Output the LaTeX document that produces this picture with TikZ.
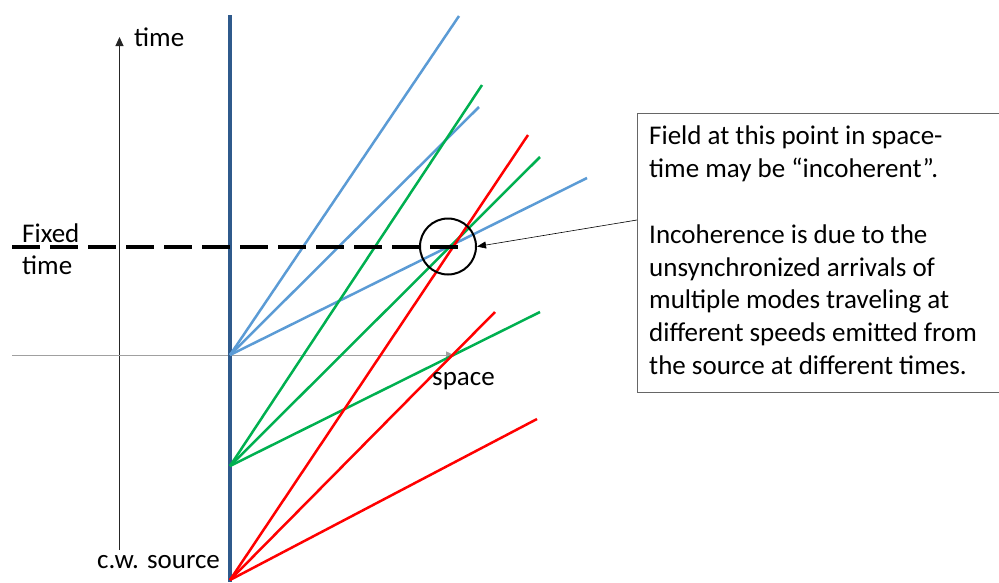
\documentclass[tikz,border=0pt]{standalone}
\usepackage{fontspec}
\setmainfont{Carlito}
\usetikzlibrary{arrows.meta}
\definecolor{srcblue}{HTML}{2F5A8C}
\definecolor{mblue}{HTML}{5B9BD5}
\definecolor{mgreen}{HTML}{00B050}
\definecolor{mred}{HTML}{FF0000}
\definecolor{axgrey}{HTML}{A0A0A0}
\begin{document}
\begin{tikzpicture}[x=1pt,y=-1pt,
  lbl/.style={font=\fontsize{27}{32}\selectfont, inner sep=0pt, anchor=base west},
  mode/.style={line width=2.5pt},
  ax/.style={line width=0.9pt,-{Triangle[length=9pt,width=8pt]}}]
\useasboundingbox (0,0) rectangle (999,582);
% axes
\coordinate (tb) at (119.5,550);
\coordinate (tt) at (119.5,37);
\draw[ax,black!85] (tb) -- (tt);
\coordinate (sl) at (12,355.5);
\coordinate (sr) at (455,355.5);
\draw[ax,axgrey,line width=1.4pt] (sl) -- (sr);
% source line
\coordinate (st) at (230,15);
\coordinate (sb) at (230,582);
\draw[srcblue,line width=4pt] (st) -- (sb);
% emission points
\coordinate (O1) at (230,355);
\coordinate (O2) at (230,466);
\coordinate (O3) at (230,580);
% blue modes
\coordinate (b1) at (459,16);
\coordinate (b2) at (479,107);
\coordinate (b3) at (587,178);
\draw[mode,mblue] (O1) -- (b1);
\draw[mode,mblue] (O1) -- (b2);
\draw[mode,mblue] (O1) -- (b3);
% green modes
\coordinate (g1) at (482,85);
\coordinate (g2) at (540,157);
\coordinate (g3) at (540,312);
\draw[mode,mgreen] (O2) -- (g1);
\draw[mode,mgreen] (O2) -- (g2);
\draw[mode,mgreen] (O2) -- (g3);
% red modes
\coordinate (r1) at (528,135);
\coordinate (r2) at (495,312);
\coordinate (r3) at (537,419);
\draw[mode,mred] (O3) -- (r1);
\draw[mode,mred] (O3) -- (r2);
\draw[mode,mred] (O3) -- (r3);
% fixed time dashed line
\coordinate (dl) at (12,247);
\coordinate (dr) at (458,247);
\draw[line width=4pt,dash pattern=on 28pt off 10pt] (dl) -- (dr);
% circle
\node[draw,circle,line width=2pt,minimum size=56pt,inner sep=0pt] (pt) at (448,246.5) {};
% labels
\node[lbl] (ltime) at (134,46) {time};
\node[lbl] (lspace) at (432,385) {space};
\node[lbl] (lsrc) at (97,568) {c.w. source};
\node[lbl] (lfixed) at (22,242) {Fixed};
\node[lbl] (lftime) at (22,274) {time};
% callout box
\node[draw=black!60,line width=1pt,rectangle,anchor=north west,minimum width=363pt,minimum height=279pt,inner sep=0pt] (box) at (637,113) {};
\node[font=\fontsize{27}{32.8}\selectfont,anchor=north west,inner sep=0pt,align=left] (boxtext) at (649,126)
  {Field at this point in space-\\time may be “incoherent”.\\[32.8pt]Incoherence is due to the\\unsynchronized arrivals of\\multiple modes traveling at\\different speeds emitted from\\the source at different times.};
\coordinate (ab) at (637,220);
\draw[line width=0.6pt,-{Triangle[length=9pt,width=7pt]}] (ab) -- (pt.east);
\end{tikzpicture}
\end{document}
